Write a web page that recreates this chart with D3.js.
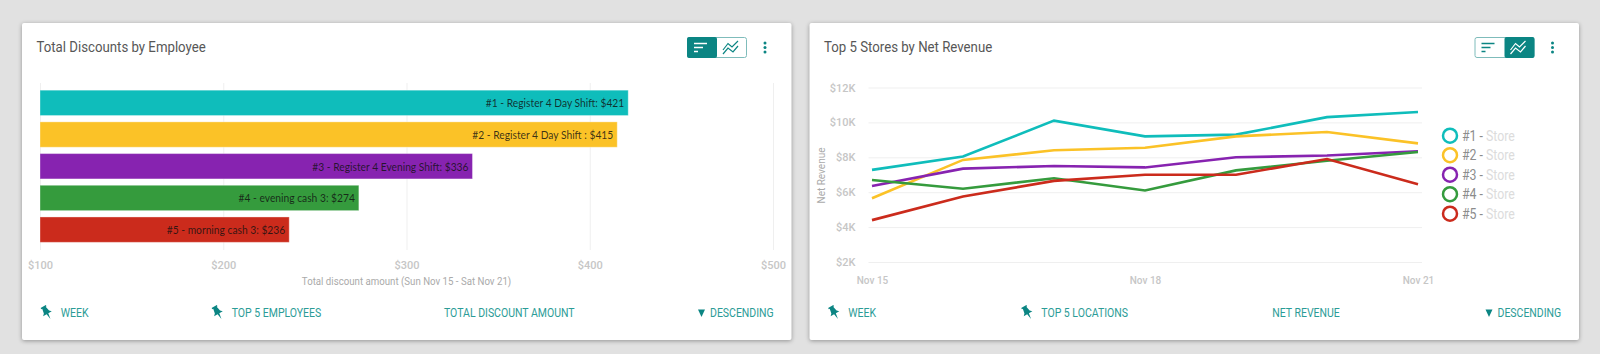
<!DOCTYPE html>
<html>
<head>
<meta charset="utf-8">
<script src="https://cdn.jsdelivr.net/npm/d3@7"></script>
<style>
  html, body { margin: 0; padding: 0; background: #e1e1e1; overflow: hidden; }
  svg { display: block; font-family: Roboto, sans-serif; }
  .card { fill: #fff; filter: drop-shadow(0 1px 2px rgba(0,0,0,.35)); }
  .title { font-size: 14px; fill: #575757; }
  .foot { font-size: 12px; fill: #2b9c97; }
  .axis path { display: none; }
  .axis line { stroke: #efefef; }
  .axis text { font-size: 11px; fill: #c6c6c6; font-weight: 500; font-family: Roboto, sans-serif; }
  .axis-title { font-size: 11px; fill: #aaa; }
  .bar-label { font-family: Lato, sans-serif; font-size: 12px; fill: #111; fill-opacity: .82; }
  .legend text { font-size: 14px; }
</style>
</head>
<body>
<script>
//////////////////////////// data /////////////////////////////////////////

const barNames = [
  "#1 - Register 4 Day Shift",
  "#2 - Register 4 Day Shift ",
  "#3 - Register 4 Evening Shift",
  "#4 - evening cash 3",
  "#5 - morning cash 3"
];
const barValues = [421, 415, 336, 274, 236];
const barTicks = [100, 200, 300, 400, 500];

const days = ["Nov 15", "Nov 16", "Nov 17", "Nov 18", "Nov 19", "Nov 20", "Nov 21"];
const dayTicks = ["Nov 15", "Nov 18", "Nov 21"];
const revenueTicks = [2000, 4000, 6000, 8000, 10000, 12000];

const store1 = [7280, 8050, 10100, 9200, 9300, 10300, 10600];
const store2 = [5650, 7850, 8400, 8550, 9200, 9450, 8800];
const store3 = [6350, 7350, 7500, 7420, 8000, 8100, 8350];
const store4 = [6700, 6200, 6800, 6100, 7250, 7800, 8300];
const store5 = [4400, 5750, 6650, 7000, 7000, 7900, 6450];
const storeNames = ["#1 - ", "#2 - ", "#3 - ", "#4 - ", "#5 - "];

const colors = ["#0fbdbb", "#fbc227", "#8723b0", "#359b3d", "#cb2b1c"];
const teal = "#0b8583";

//////////////////////////// helpers //////////////////////////////////////

const svg = d3.select("body").append("svg").attr("width", 1600).attr("height", 354);

const pinPath = "M-3,-7 H3 V-5.5 H2 L3,-0.5 L5,1.5 H1 L0,7.5 L-1,1.5 H-5 L-3,-0.5 L-2,-5.5 H-3 Z";

// the text in the reference runs narrower than the installed fonts
const squeeze = (sx) => (sel, x, y) => sel.attr("transform", `translate(${x},${y}) scale(${sx},1)`);

const drawCard = (x0, title, footer, activeBar) => {
  const g = svg.append("g").attr("transform", `translate(${x0},0)`);
  g.append("rect").attr("class", "card").attr("x", 0).attr("y", 23)
    .attr("width", 769.5).attr("height", 317).attr("rx", 2);
  g.append("text").attr("class", "title").call(squeeze(0.945), 14.5, 52).text(title);

  // bar / line toggle
  const t = g.append("g").attr("transform", "translate(665,37)");
  t.append("rect").attr("x", 0.5).attr("y", 0.5).attr("width", 59).attr("height", 20)
    .attr("rx", 2).attr("fill", "#fff").attr("stroke", "#7fbcbb");
  t.append("rect").attr("x", activeBar ? 0 : 30).attr("width", 30).attr("height", 21)
    .attr("rx", 2).attr("fill", teal);
  const barIcon = activeBar ? "#fff" : teal;
  const lineIcon = activeBar ? teal : "#fff";
  [[7, 20], [7, 16], [7, 11]].forEach((d, i) => {
    t.append("line").attr("x1", d[0]).attr("x2", d[1])
      .attr("y1", 6.5 + i * 4).attr("y2", 6.5 + i * 4)
      .attr("stroke", barIcon).attr("stroke-width", 1.5);
  });
  ["M36,13 L41,6.5 L45,10 L51,4", "M36,17 L41,11 L46,15 L51,9"].forEach(p => {
    t.append("path").attr("d", p).attr("fill", "none").attr("stroke", lineIcon).attr("stroke-width", 1.2);
  });

  // kebab
  [43, 47.5, 52].forEach(y => {
    g.append("circle").attr("cx", 743).attr("cy", y).attr("r", 1.5).attr("fill", teal);
  });

  // footer
  footer.forEach(f => {
    if (f.pin) {
      g.append("path").attr("d", pinPath)
        .attr("transform", `translate(${f.x - 14},312.5) rotate(-30)`).attr("fill", teal);
    }
    if (f.arrow) {
      g.append("path").attr("d", "M-3.5,-4 L3.5,-4 L0,3.5 Z")
        .attr("transform", `translate(${f.x - 8.5},313.5)`).attr("fill", teal);
    }
    g.append("text").attr("class", "foot").call(squeeze(0.875), f.x, 317).text(f.text);
  });
  return g;
};

//////////////////////////// bar card /////////////////////////////////////

const drawBars = () => {
  drawCard(22, "Total Discounts by Employee", [
    { text: "WEEK", x: 38.7, pin: true },
    { text: "TOP 5 EMPLOYEES", x: 209.7, pin: true },
    { text: "TOTAL DISCOUNT AMOUNT", x: 422 },
    { text: "DESCENDING", x: 688, arrow: true }
  ], true);

  const xScale = d3.scaleLinear().domain([100, 500]).range([40, 773]);
  const yScale = d3.scaleBand().domain(barNames).range([87, 245.5]).paddingInner(0.2).paddingOuter(0.1);

  const chart = svg.append("g");
  chart.append("g").attr("class", "axis").attr("transform", "translate(0,250)")
    .call(d3.axisBottom(xScale).tickValues(barTicks).tickSize(-167).tickPadding(11)
      .tickFormat(d => "$" + d));

  chart.selectAll("rect.bar").data(barNames).enter().append("rect")
    .attr("class", "bar")
    .attr("x", xScale(100))
    .attr("y", d => yScale(d))
    .attr("height", yScale.bandwidth())
    .attr("width", (d, i) => xScale(barValues[i]) - xScale(100))
    .attr("fill", (d, i) => colors[i])
    .attr("stroke", "rgba(255,255,255,.35)");

  chart.selectAll("text.bar-label").data(barNames).enter().append("text")
    .attr("class", "bar-label")
    .attr("text-anchor", "end")
    .attr("transform", (d, i) => `translate(${xScale(barValues[i]) - 4},${yScale(d) + yScale.bandwidth() / 2 + 4.5}) scale(0.855,1)`)
    .text((d, i) => `${d}: $${barValues[i]}`);

  chart.append("text").attr("class", "axis-title").attr("text-anchor", "middle")
    .call(squeeze(0.88), 406.5, 285).text("Total discount amount (Sun Nov 15 - Sat Nov 21)");
};

//////////////////////////// line card ////////////////////////////////////

const drawLines = () => {
  drawCard(809.5, "Top 5 Stores by Net Revenue", [
    { text: "WEEK", x: 38.7, pin: true },
    { text: "TOP 5 LOCATIONS", x: 231.8, pin: true },
    { text: "NET REVENUE", x: 462.8 },
    { text: "DESCENDING", x: 688, arrow: true }
  ], false);

  const xScale = d3.scalePoint().domain(days).range([872, 1418]);
  const yScale = d3.scaleLinear().domain([2000, 12000]).range([262, 87.5]);
  const chart = svg.append("g");

  chart.append("g").attr("class", "axis").attr("transform", "translate(868.5,0)")
    .call(d3.axisLeft(yScale).tickValues(revenueTicks).tickSize(-553.5).tickPadding(13)
      .tickFormat(d => "$" + d / 1000 + "K"));

  const xAxis = chart.append("g").attr("class", "axis").attr("transform", "translate(0,262)")
    .call(d3.axisBottom(xScale).tickValues(dayTicks).tickSize(0).tickPadding(15));
  xAxis.selectAll("text").style("font-size", "10px");

  chart.append("text").attr("class", "axis-title").attr("text-anchor", "middle")
    .attr("transform", "translate(825,175.5) rotate(-90)").style("font-size", "10px").text("Net Revenue");

  const line = d3.line().x((d, i) => xScale(days[i])).y(d => yScale(d));
  [store1, store2, store3, store4, store5].forEach((s, i) => {
    chart.append("path").attr("d", line(s)).attr("fill", "none")
      .attr("stroke", colors[i]).attr("stroke-width", 2.6);
  });

  const legend = chart.selectAll("g.legend").data(storeNames).enter().append("g")
    .attr("class", "legend")
    .attr("transform", (d, i) => `translate(1450,${135.7 + i * 19.5})`);
  legend.append("circle").attr("r", 7).attr("fill", "#fff")
    .attr("stroke", (d, i) => colors[i]).attr("stroke-width", 2.5);
  const label = legend.append("text").attr("transform", "translate(12,5) scale(0.88,1)");
  label.append("tspan").attr("fill", "#8c8c8c").text(d => d);
  label.append("tspan").attr("fill", "#dcdcdc").text("Store");
};

drawBars();
drawLines();
</script>
</body>
</html>
